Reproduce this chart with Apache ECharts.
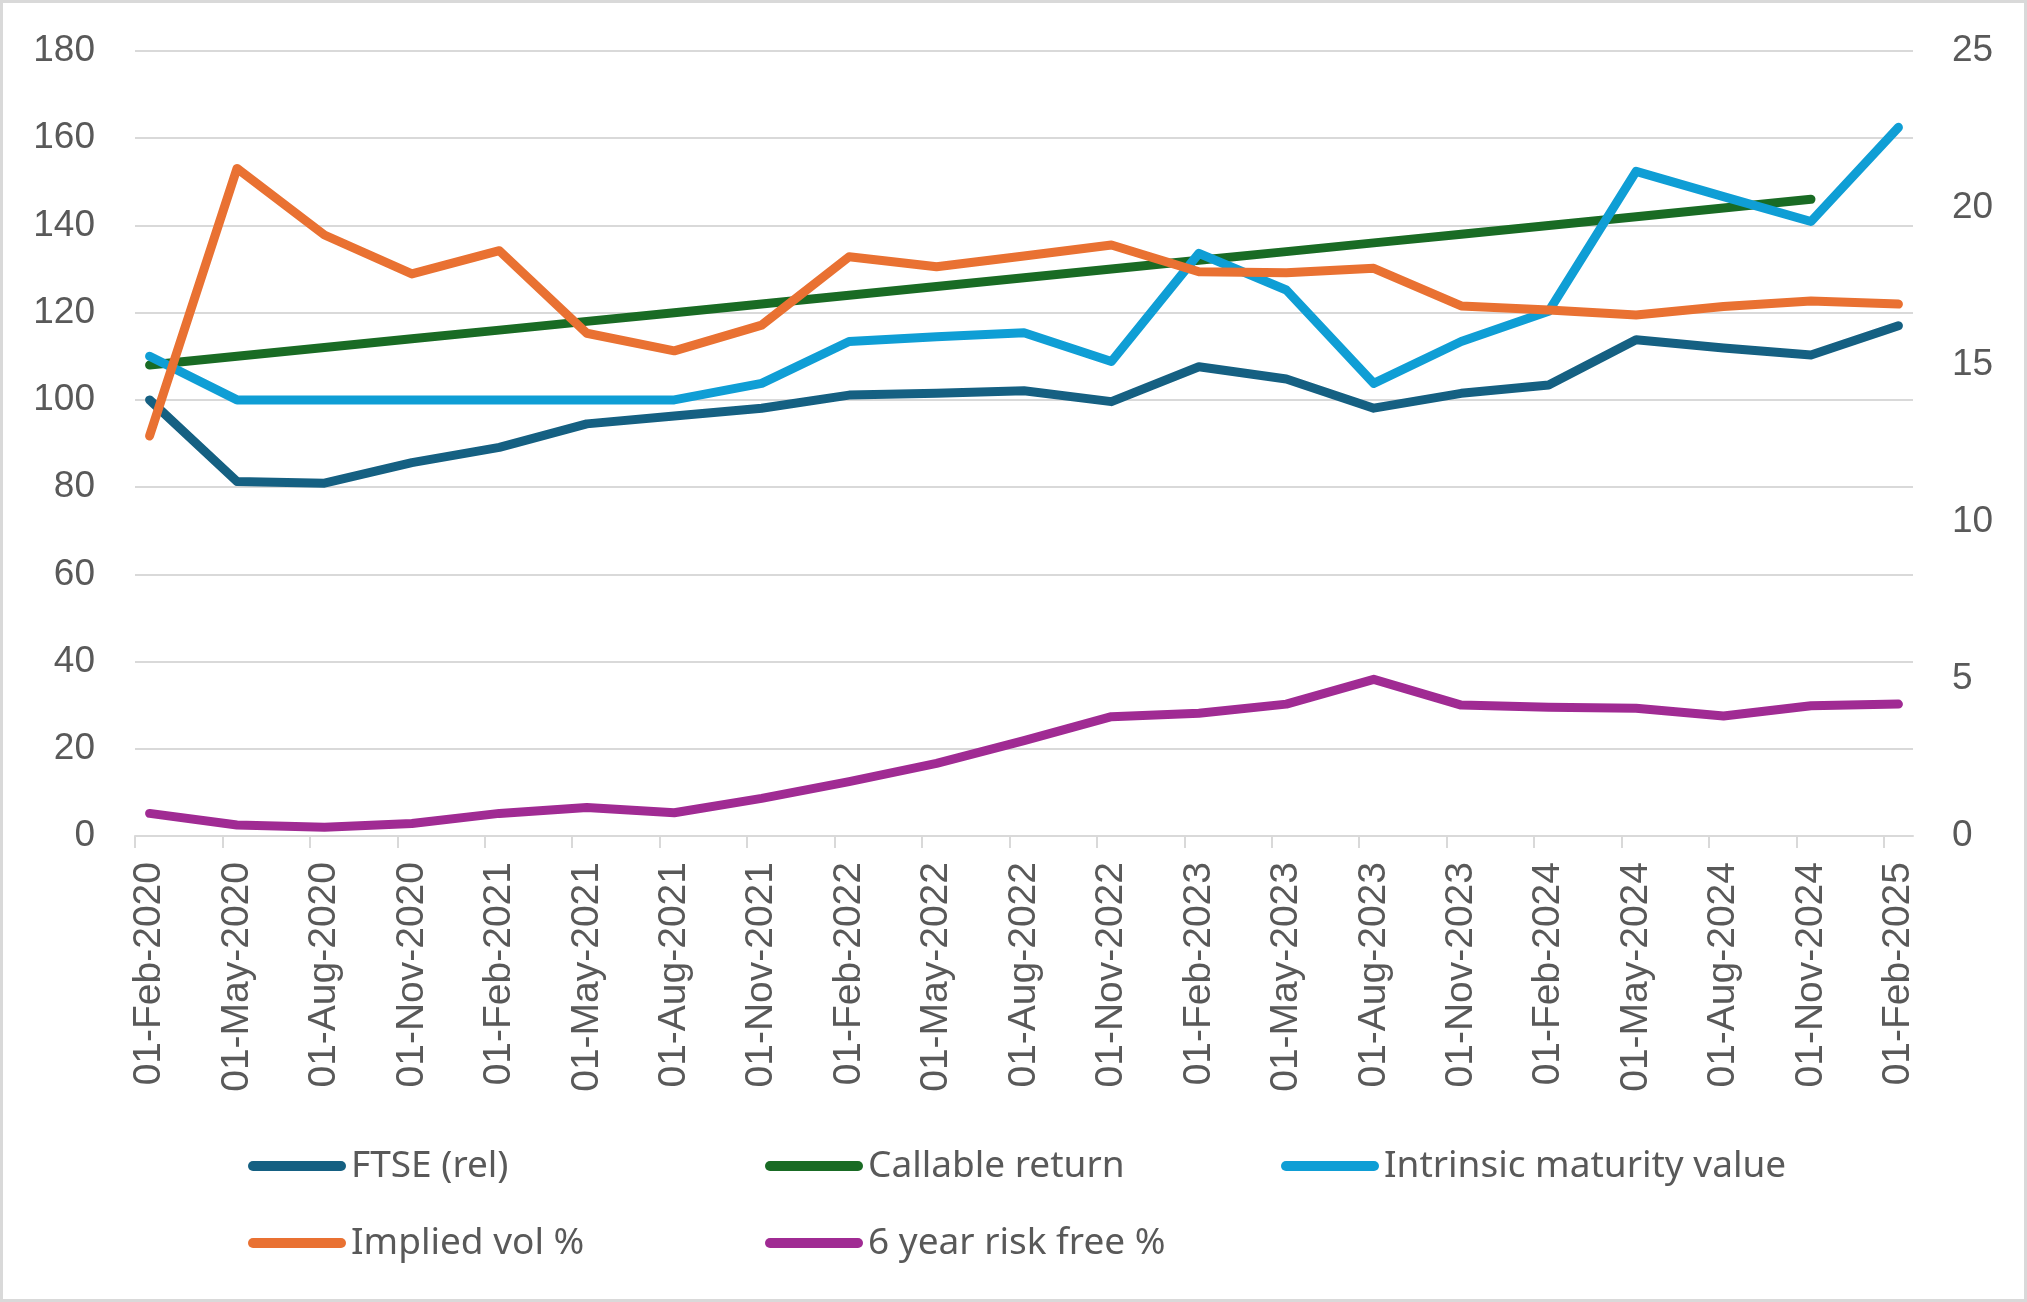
<!DOCTYPE html>
<html>
<head>
<meta charset="utf-8">
<script src="https://cdn.jsdelivr.net/npm/echarts@6/dist/echarts.min.js"></script>
<style>
  html, body { margin: 0; padding: 0; background: #ffffff; }
  #chart { width: 2027px; height: 1302px; }
</style>
</head>
<body>
<div id="chart"></div>
<script>
// Quarterly tick labels (one per data point)
const tickLabels = ['01-Feb-2020','01-May-2020','01-Aug-2020','01-Nov-2020','01-Feb-2021','01-May-2021','01-Aug-2021','01-Nov-2021','01-Feb-2022','01-May-2022','01-Aug-2022','01-Nov-2022','01-Feb-2023','01-May-2023','01-Aug-2023','01-Nov-2023','01-Feb-2024','01-May-2024','01-Aug-2024','01-Nov-2024','01-Feb-2025'];

// Left axis series
const ftseRel = [100.0, 81.3, 80.9, 85.6, 89.1, 94.5, 96.3, 98.1, 101.1, 101.5, 102.1, 99.6, 107.6, 104.8, 98.1, 101.5, 103.4, 113.8, 111.9, 110.3, 117.0];
const callableReturn = [108, 110, 112, 114, 116, 118, 120, 122, 124, 126, 128, 130, 132, 134, 136, 138, 140, 142, 144, 146, null];
const intrinsicValue = [110.0, 100, 100, 100, 100, 100, 100, 103.8, 113.4, 114.5, 115.4, 108.8, 133.6, 125.2, 103.8, 113.4, 120.3, 152.4, 146.6, 140.9, 162.5];

// Right axis series
const impliedVol = [12.74, 21.26, 19.14, 17.90, 18.64, 16.01, 15.45, 16.27, 18.45, 18.13, 18.47, 18.82, 17.97, 17.94, 18.08, 16.88, 16.75, 16.59, 16.86, 17.04, 16.94];
const riskFree6y = [0.72, 0.35, 0.28, 0.40, 0.72, 0.91, 0.74, 1.20, 1.73, 2.31, 3.04, 3.80, 3.91, 4.20, 4.99, 4.17, 4.10, 4.07, 3.82, 4.15, 4.20];

const leftTicks = [0, 20, 40, 60, 80, 100, 120, 140, 160, 180];
const rightTicks = [0, 5, 10, 15, 20, 25];

// Axis is monthly (61 month bands Feb-2020..Feb-2025); points sit at band centres every 3 months
const MONTHS = 61;
const STEP = 3;
const pointX = i => i * STEP + 0.5;
const toPairs = arr => arr.map((v, i) => [pointX(i), v]).filter(p => p[1] !== null);

const tickPositions = tickLabels.map((_, i) => i * STEP);
const labelPositions = tickLabels.map((_, i) => pointX(i));

const TEXT = '#595959';
const GRID = '#D9D9D9';
const colors = {
  ftse: '#156082',
  callable: '#196B24',
  intrinsic: '#0F9ED5',
  vol: '#E97132',
  rf: '#A02B93'
};

function lineSeries(name, data, color, yAxisIndex) {
  return {
    name: name,
    type: 'line',
    yAxisIndex: yAxisIndex,
    data: toPairs(data),
    showSymbol: false,
    symbol: 'none',
    connectNulls: true,
    smooth: false,
    itemStyle: { color: color },
    lineStyle: { color: color, width: 9, cap: 'round', join: 'round' },
    emphasis: { disabled: true },
    animation: false
  };
}

const legendIcon = 'path://M5,0 L93,0 A5,5 0 0 1 93,10 L5,10 A5,5 0 0 1 5,0 Z';
function legendAt(name, left, top) {
  return {
    data: [name],
    left: left,
    top: top,
    orient: 'horizontal',
    icon: legendIcon,
    itemWidth: 98,
    itemHeight: 10,
    selectedMode: false,
    textStyle: { color: TEXT, fontFamily: 'Noto Sans', fontSize: 37, lineHeight: 44 }
  };
}

const chart = echarts.init(document.getElementById('chart'), null, { renderer: 'canvas' });
chart.setOption({
  backgroundColor: '#ffffff',
  animation: false,
  graphic: [{
    type: 'rect',
    shape: { x: 1.5, y: 1.5, width: 2024, height: 1299 },
    style: { fill: 'none', stroke: GRID, lineWidth: 3 },
    silent: true
  }],
  grid: { left: 135, right: 114, top: 51, bottom: 466, containLabel: false },
  legend: [
    legendAt('FTSE (rel)', 243, 1139),
    legendAt('Callable return', 760, 1139),
    legendAt('Intrinsic maturity value', 1276, 1139),
    legendAt('Implied vol %', 243, 1216),
    legendAt('6 year risk free %', 760, 1216)
  ],
  xAxis: {
    type: 'value',
    min: 0,
    max: MONTHS,
    splitLine: { show: false },
    axisLine: { show: true, onZero: false, lineStyle: { color: GRID, width: 2 } },
    axisTick: { show: true, length: 12, lineStyle: { color: GRID, width: 2 }, customValues: tickPositions },
    axisLabel: {
      show: true,
      customValues: labelPositions,
      rotate: 90,
      margin: 26,
      color: TEXT,
      fontFamily: 'Liberation Sans',
      fontSize: 39,
      formatter: function (v) {
        const idx = Math.round((v - 0.5) / STEP);
        return tickLabels[idx] !== undefined ? tickLabels[idx] : '';
      }
    }
  },
  yAxis: [
    {
      type: 'value',
      position: 'left',
      min: leftTicks[0],
      max: leftTicks[leftTicks.length - 1],
      interval: 20,
      axisLine: { show: false },
      axisTick: { show: false },
      splitLine: { show: true, lineStyle: { color: GRID, width: 2 } },
      axisLabel: { color: TEXT, fontFamily: 'Liberation Sans', fontSize: 37, margin: 40 }
    },
    {
      type: 'value',
      position: 'right',
      min: rightTicks[0],
      max: rightTicks[rightTicks.length - 1],
      interval: 5,
      axisLine: { show: false },
      axisTick: { show: false },
      splitLine: { show: false },
      axisLabel: { color: TEXT, fontFamily: 'Liberation Sans', fontSize: 37, margin: 39 }
    }
  ],
  series: [
    lineSeries('FTSE (rel)', ftseRel, colors.ftse, 0),
    lineSeries('Callable return', callableReturn, colors.callable, 0),
    lineSeries('Intrinsic maturity value', intrinsicValue, colors.intrinsic, 0),
    lineSeries('Implied vol %', impliedVol, colors.vol, 1),
    lineSeries('6 year risk free %', riskFree6y, colors.rf, 1)
  ]
});
</script>
</body>
</html>
